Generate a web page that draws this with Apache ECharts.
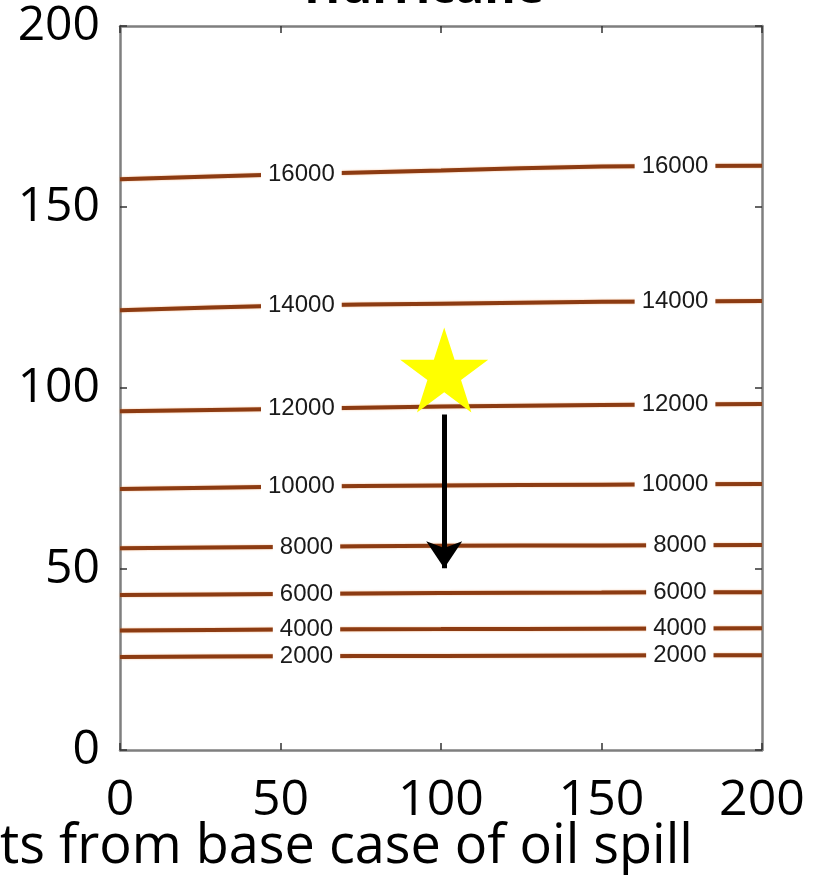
<!DOCTYPE html>
<html>
<head>
<meta charset="utf-8">
<script src="https://cdn.jsdelivr.net/npm/echarts@6/dist/echarts.min.js"></script>
<style>html,body{margin:0;padding:0;background:#fff;}#c{width:821px;height:875px;}</style>
</head>
<body>
<div id="c"></div>
<script>
// ---- data ----
const titleText = 'Hurricane';
const xAxisName = 'ts from base case of oil spill';
const xTicks = [0, 50, 100, 150, 200];
const sampleX = [0, 50, 100, 150, 200];
const levels = [2000, 4000, 6000, 8000, 10000, 12000, 14000, 16000];
const line2000  = [25.7, 25.9, 26.0, 26.1, 26.2];
const line4000  = [33.0, 33.3, 33.4, 33.5, 33.6];
const line6000  = [42.8, 43.1, 43.4, 43.5, 43.6];
const line8000  = [55.7, 56.1, 56.4, 56.5, 56.6];
const line10000 = [72.1, 72.7, 73.1, 73.3, 73.5];
const line12000 = [93.6, 94.2, 94.9, 95.3, 95.6];
const line14000 = [121.5, 122.7, 123.3, 123.8, 124.0];
const line16000 = [157.7, 159.0, 160.1, 161.2, 161.4];
const contourLines = [line2000, line4000, line6000, line8000, line10000, line12000, line14000, line16000];
// inline contour labels: [x, y, text]
const labelLeftX5 = 56.5, labelRightX5 = 172.9, labelLeftX4 = 58.1, labelRightX4 = 174.4;
const labelLeftY  = [25.9, 33.3, 43.1, 56.1, 72.8, 94.3, 122.8, 159.1];
const labelRightY = [26.15, 33.55, 43.55, 56.55, 73.4, 95.5, 123.9, 161.3];
// star (base case) and arrow
const starPoint = [101, 105.0];
const arrowFrom = [101, 92.7];
const arrowTo = [101, 50.2];

// ---- chart ----
const chart = echarts.init(document.getElementById('c'), null, {renderer: 'canvas'});
const axisLineStyle = {color: '#7f7f7f', width: 2.5};
const tickStyle = {color: '#333', width: 1.5};
const labelFont = 'Open Sans';

const series = [];
contourLines.forEach((arr, i) => {
  series.push({
    type: 'line',
    name: String(levels[i]),
    data: sampleX.map((x, k) => [x, arr[k]]),
    smooth: 0.3,
    showSymbol: false,
    lineStyle: {color: '#8c3b12', width: 4, shadowColor: 'rgba(235,130,50,0.6)', shadowBlur: 2},
    z: 2,
    silent: true
  });
});
const labelData = [];
levels.forEach((lv, i) => {
  const five = lv >= 10000;
  labelData.push([five ? labelLeftX5 : labelLeftX4, labelLeftY[i], String(lv)]);
  labelData.push([five ? labelRightX5 : labelRightX4, labelRightY[i], String(lv)]);
});
series.push({
  type: 'scatter',
  data: labelData,
  symbolSize: 0,
  z: 5,
  silent: true,
  itemStyle: {opacity: 1},
  label: {
    show: true,
    position: 'inside',
    formatter: p => p.value[2],
    backgroundColor: '#ffffff',
    padding: [1, 7],
    fontSize: 24,
    fontFamily: 'Liberation Sans',
    color: '#1a1a1a',
    opacity: 1
  }
});
series.push({
  type: 'scatter',
  data: [starPoint],
  symbol: 'path://M100,0 L122.45,69.1 L195.1,69.1 L136.33,111.8 L158.78,180.9 L100,138.2 L41.22,180.9 L63.67,111.8 L4.9,69.1 L77.55,69.1 Z',
  symbolKeepAspect: false,
  symbolSize: [88, 85],
  itemStyle: {color: '#ffff00', opacity: 1},
  z: 6,
  silent: true
});
series.push({
  type: 'lines',
  coordinateSystem: 'cartesian2d',
  data: [{coords: [arrowFrom, arrowTo]}],
  symbol: ['none', 'arrow'],
  symbolSize: 27,
  lineStyle: {color: '#000', width: 5, opacity: 1},
  z: 7,
  silent: true
});

chart.setOption({
  animation: false,
  backgroundColor: '#fff',
  grid: {left: 120, right: 59, top: 26, bottom: 125, containLabel: false},
  xAxis: [{
    type: 'value', min: 0, max: 200, interval: 50, position: 'bottom',
    axisLine: {show: true, onZero: false, lineStyle: axisLineStyle},
    axisTick: {show: true, inside: true, length: 7, lineStyle: tickStyle},
    axisLabel: {fontSize: 50, fontFamily: labelFont, color: '#000', margin: 26,
      formatter: v => xTicks.indexOf(v) >= 0 ? String(v) : ''},
    splitLine: {show: false}
  }, {
    type: 'value', min: 0, max: 200, interval: 50, position: 'top',
    axisLine: {show: true, onZero: false, lineStyle: axisLineStyle},
    axisTick: {show: true, inside: true, length: 7, lineStyle: tickStyle},
    axisLabel: {show: false}, splitLine: {show: false}
  }],
  yAxis: [{
    type: 'value', min: 0, max: 200, interval: 50, position: 'left',
    axisLine: {show: true, onZero: false, lineStyle: axisLineStyle},
    axisTick: {show: true, inside: true, length: 7, lineStyle: tickStyle},
    axisLabel: {fontSize: 48, fontFamily: labelFont, color: '#000', margin: 20},
    splitLine: {show: false}
  }, {
    type: 'value', min: 0, max: 200, interval: 50, position: 'right',
    axisLine: {show: true, onZero: false, lineStyle: axisLineStyle},
    axisTick: {show: true, inside: true, length: 7, lineStyle: tickStyle},
    axisLabel: {show: false}, splitLine: {show: false}
  }],
  graphic: [{
    type: 'text', left: 0, top: 821,
    style: {text: xAxisName, font: '54px "Open Sans"', fill: '#000'}
  }, {
    type: 'text', x: 424, y: -35,
    style: {text: titleText, font: 'bold 48px "Open Sans"', fill: '#000', textAlign: 'center', textVerticalAlign: 'top'}
  }],
  series: series
});
</script>
</body>
</html>
